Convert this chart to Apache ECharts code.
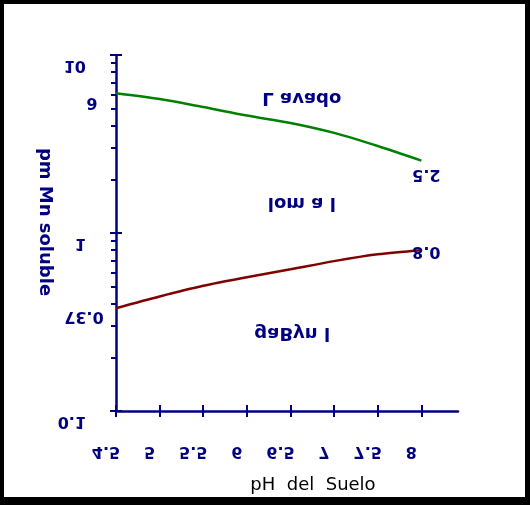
<!DOCTYPE html>
<html>
<head>
<meta charset="utf-8">
<script src="https://cdn.jsdelivr.net/npm/echarts@6/dist/echarts.min.js"></script>
<style>
  html, body { margin: 0; padding: 0; background: #fff; }
  #chart { position: absolute; left: 0; top: 0; width: 530px; height: 505px; }
  #frame { position: absolute; left: 0; top: 0; width: 530px; height: 505px; box-sizing: border-box;
           border-style: solid; border-color: #000; border-width: 4px 5px 8px 4px; pointer-events: none; }
</style>
</head>
<body>
<div id="chart"></div>
<div id="frame"></div>
<script>
// ---- data ----
const phValues     = [4.5, 5, 5.5, 6, 6.5, 7, 7.5, 8];
const mnUpper      = [6.1, 5.66, 5.1, 4.57, 4.15, 3.65, 3.08, 2.55];
const mnLower      = [0.378, 0.44, 0.505, 0.564, 0.625, 0.695, 0.759, 0.80];
const phTicks      = [4.5, 5, 5.5, 6, 6.5, 7, 7.5, 8];
const phTickLabels = ['4.5', '5', '5.5', '6', '6.5', '7', '7.5', '8'];
const mnTicks      = [0.1, 1, 10];
const mnTickLabels = ['0.1', '1', '10'];
const upperValueLabels = ['6', '2.5'];
const lowerValueLabels = ['0.37', '0.8'];
const regionNames  = ['L avado', 'lom a l', 'gaByn l'];
const xTitle = 'pH  del  Suelo';
const yTitle = 'pm Mn soluble';

const NAVY = '#000080';
const FONT = '"DejaVu Sans", sans-serif';

const chart = echarts.init(document.getElementById('chart'), null, { renderer: 'canvas' });

const baseX = { type: 'value', min: 4.5, max: 8.42, interval: 0.5, position: 'bottom',
  splitLine: { show: false }, axisLabel: { show: false } };
const baseY = { type: 'log', logBase: 10, min: 0.1, max: 10, position: 'left',
  splitLine: { show: false }, axisLabel: { show: false } };

const option = {
  animation: false,
  backgroundColor: '#fff',
  grid: { left: 116, right: 72, top: 55, bottom: 94, containLabel: false },
  xAxis: [
    Object.assign({}, baseX, {
      axisLine: { show: true, onZero: false, lineStyle: { color: NAVY, width: 2.5 } },
      axisTick: { show: true, inside: false, length: 6, customValues: phTicks, lineStyle: { color: NAVY, width: 2 } }
    }),
    Object.assign({}, baseX, {
      axisLine: { show: false, onZero: false },
      axisTick: { show: true, inside: true, length: 6, customValues: phTicks, lineStyle: { color: NAVY, width: 2 } }
    })
  ],
  yAxis: [
    Object.assign({}, baseY, {
      axisLine: { show: true, lineStyle: { color: NAVY, width: 2.5 } },
      axisTick: { show: true, inside: false, length: 6, lineStyle: { color: NAVY, width: 2 } },
      minorTick: { show: true, splitNumber: 9, length: 5, lineStyle: { color: NAVY, width: 2 } }
    }),
    Object.assign({}, baseY, {
      axisLine: { show: false },
      axisTick: { show: true, inside: true, length: 6, lineStyle: { color: NAVY, width: 2 } }
    })
  ],
  series: [
    { type: 'line', name: 'upper', xAxisIndex: 0, yAxisIndex: 0, smooth: 0.3, symbol: 'none',
      lineStyle: { color: '#008000', width: 2.5 },
      data: phValues.map((p, i) => [p, mnUpper[i]]) },
    { type: 'line', name: 'lower', xAxisIndex: 0, yAxisIndex: 0, smooth: 0.3, symbol: 'none',
      lineStyle: { color: '#800000', width: 2.5 },
      data: phValues.map((p, i) => [p, mnLower[i]]) }
  ]
};
chart.setOption(option);

const px = v => chart.convertToPixel({ xAxisIndex: 0 }, v);
const py = v => chart.convertToPixel({ yAxisIndex: 0 }, v);

function txt(text, x, y, o) {
  o = o || {};
  const align = o.align || 'center';
  return {
    type: 'text', x: x, y: y, silent: true, z: 100,
    rotation: o.rotation || 0, scaleX: 1, scaleY: o.flip ? -1 : 1,
    style: { text: text, x: 0, y: 0, fill: o.fill || NAVY, font: o.font || ('bold 16px ' + FONT),
      align: align, textAlign: align, verticalAlign: 'middle', textVerticalAlign: 'middle' }
  };
}

const g = [];
// x tick labels (vertically mirrored, as in the reference)
phTicks.forEach((v, i) => g.push(txt(phTickLabels[i], px(v) - 10, 451.5, { flip: true })));
// y tick labels
const axisX = px(4.5);
mnTicks.forEach((v, i) => g.push(txt(mnTickLabels[i], axisX - 30, py(v) + 10, { flip: true, align: 'right' })));
// value labels at line ends (upside down)
g.push(txt(lowerValueLabels[0], px(phValues[0]) - 32, py(mnLower[0]) + 7.5, { rotation: Math.PI }));
g.push(txt(lowerValueLabels[1], px(phValues[7]) + 5, py(mnLower[7]) + 0.5, { rotation: Math.PI }));
g.push(txt(upperValueLabels[0], px(phValues[0]) - 24, py(mnUpper[0]) + 9, { rotation: Math.PI }));
g.push(txt(upperValueLabels[1], px(phValues[7]) + 5, py(mnUpper[7]) + 13.5, { rotation: Math.PI }));
// region names
const regionFont = 'bold 18px ' + FONT;
g.push(txt(regionNames[0], px(6.63), py(5.73), { flip: true, font: regionFont }));
g.push(txt(regionNames[1], px(6.63), py(1.48), { flip: true, font: regionFont }));
g.push(txt(regionNames[2], px(6.52), py(0.274), { flip: true, font: regionFont }));
// axis titles
g.push(txt(yTitle, 45, (py(10) + py(0.1)) / 2 - 11, { rotation: -Math.PI / 2, font: 'bold 18px ' + FONT }));
g.push(txt(xTitle, 313, 485, { fill: '#000', font: '18px ' + FONT }));

chart.setOption({ graphic: g });
</script>
</body>
</html>
